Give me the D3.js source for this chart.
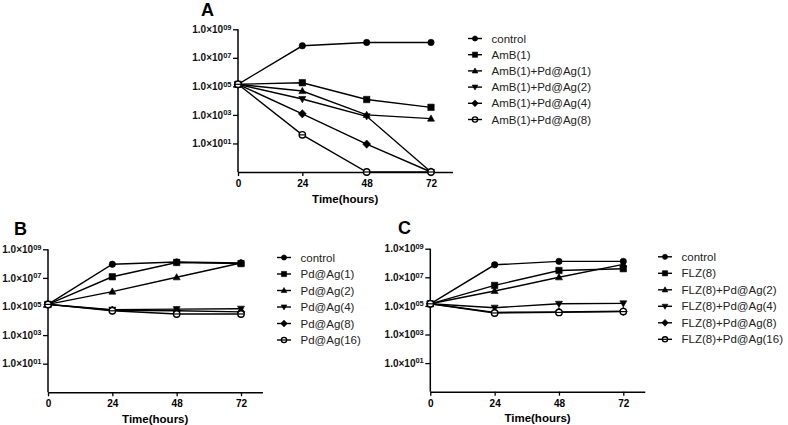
<!DOCTYPE html>
<html><head><meta charset="utf-8">
<script src="https://cdn.jsdelivr.net/npm/d3@7"></script>
<style>body{margin:0;background:#fff}svg{display:block}text{font-family:Arial,"Liberation Sans",sans-serif}</style>
</head><body>
<script>
// ---- data ----
const hours = [0, 24, 48, 72];
const yTickValues = [1e1, 1e3, 1e5, 1e7, 1e9];
const yTickExponents = ["01", "03", "05", "07", "09"];
const symbolKinds = ["circle", "square", "triangle", "triangleDown", "diamond", "openCircle"];

const labelsA = ["control", "AmB(1)", "AmB(1)+Pd@Ag(1)", "AmB(1)+Pd@Ag(2)", "AmB(1)+Pd@Ag(4)", "AmB(1)+Pd@Ag(8)"];
const valuesA = [
  [1.4e5, 7e7, 1.2e8, 1.2e8],
  [1.4e5, 1.8e5, 1.2e4, 3.4e3],
  [1.4e5, 4.7e4, 1.0e3, 5.5e2],
  [1.4e5, 1.3e4, 8e2, 0.1],
  [1.4e5, 1.2e3, 9, 0.1],
  [1.4e5, 40, 0.1, 0.1]
];
const labelsB = ["control", "Pd@Ag(1)", "Pd@Ag(2)", "Pd@Ag(4)", "Pd@Ag(8)", "Pd@Ag(16)"];
const valuesB = [
  [1.4e5, 9e7, 1.3e8, 1.1e8],
  [1.4e5, 1.2e7, 1.2e8, 1.0e8],
  [1.4e5, 1.1e6, 1.1e7, 1.1e8],
  [1.4e5, 6e4, 6.5e4, 7e4],
  [1.4e5, 5.5e4, 5e4, 4.2e4],
  [1.4e5, 5e4, 3e4, 3e4]
];
const labelsC = ["control", "FLZ(8)", "FLZ(8)+Pd@Ag(2)", "FLZ(8)+Pd@Ag(4)", "FLZ(8)+Pd@Ag(8)", "FLZ(8)+Pd@Ag(16)"];
const valuesC = [
  [1.4e5, 7.5e7, 1.3e8, 1.3e8],
  [1.4e5, 2.7e6, 3e7, 4e7],
  [1.4e5, 1.1e6, 1e7, 8e7],
  [1.4e5, 7.5e4, 1.4e5, 1.5e5],
  [1.4e5, 3.5e4, 3.8e4, 4.2e4],
  [1.4e5, 3.2e4, 3.5e4, 4e4]
];
const panelTitles = ["A", "B", "C"];
const xAxisTitle = "Time(hours)";

// ---- layout ----
const W = 788, H = 425;
const svg = d3.select("body").append("svg").attr("width", W).attr("height", H);

const panels = [
  {title: panelTitles[0], labels: labelsA, values: valuesA, axisX: 238, yTop: 29.3, yBot: 172, titleX: 201, titleY: 16, legX: 468, legY: 38.5, legStep: 16.2},
  {title: panelTitles[1], labels: labelsB, values: valuesB, axisX: 48, yTop: 249.3, yBot: 392.3, titleX: 14, titleY: 235, legX: 277, legY: 257.5, legStep: 16.5},
  {title: panelTitles[2], labels: labelsC, values: valuesC, axisX: 430.3, yTop: 248.7, yBot: 391.7, titleX: 398, titleY: 234, legX: 658, legY: 256.8, legStep: 16.5}
];

function markerPath(kind, s) {
  switch (kind) {
    case "circle": case "openCircle": return d3.symbol(d3.symbolCircle, s * s * Math.PI)();
    case "square": return `M${-s},${-s}H${s}V${s}H${-s}Z`;
    case "triangle": return `M0,${-s * 1.15}L${s * 1.1},${s * 0.8}L${-s * 1.1},${s * 0.8}Z`;
    case "triangleDown": return `M0,${s * 1.15}L${s * 1.1},${-s * 0.8}L${-s * 1.1},${-s * 0.8}Z`;
    case "diamond": return `M0,${-s * 1.3}L${s * 1.25},0L0,${s * 1.3}L${-s * 1.25},0Z`;
  }
}
function drawMarker(g, kind, x, y, s) {
  g.append("path").attr("d", markerPath(kind, s))
    .attr("transform", `translate(${x},${y})`)
    .attr("fill", kind === "openCircle" ? "#fff" : "#000")
    .attr("stroke", "#000").attr("stroke-width", kind === "openCircle" ? 1.4 : 0.6);
  if (kind === "openCircle") {
    g.append("line").attr("x1", x - s).attr("x2", x + s).attr("y1", y).attr("y2", y)
      .attr("stroke", "#000").attr("stroke-width", 1.2);
  }
}

panels.forEach(p => {
  const g = svg.append("g");
  const x = d3.scaleLinear().domain([0, 80]).range([p.axisX, p.axisX + 193 * 80 / 72]);
  const y = d3.scaleLog().domain([0.1, 1e9]).range([p.yBot, p.yTop]);

  // x axis
  const xa = g.append("g").attr("transform", `translate(0,${p.yBot})`)
    .call(d3.axisBottom(x).tickValues(hours).tickSize(4).tickSizeOuter(0).tickPadding(4));
  xa.select(".domain").attr("stroke-width", 1.5);
  xa.selectAll(".tick line").attr("stroke-width", 1.3);
  xa.selectAll(".tick text").attr("font-size", 10).attr("font-weight", "bold")
    .attr("font-family", "Arial, 'Liberation Sans', sans-serif").attr("fill", "#000");

  // y axis
  const ya = g.append("g").attr("transform", `translate(${p.axisX},0)`)
    .call(d3.axisLeft(y).tickValues(yTickValues).tickSize(5).tickSizeOuter(0).tickFormat(() => ""));
  ya.select(".domain").attr("d", `M0,${p.yTop}V${p.yBot}`).attr("stroke-width", 1.5);
  ya.selectAll(".tick line").attr("stroke-width", 1.3);
  ya.selectAll(".tick text").remove();
  yTickValues.forEach((v, i) => {
    const t = g.append("text").attr("x", p.axisX - 6.5).attr("y", y(v) + 3.6)
      .attr("text-anchor", "end").attr("font-weight", "bold").attr("fill", "#111");
    t.append("tspan").attr("font-size", 10).text("1.0×10");
    t.append("tspan").attr("font-size", 7.5).attr("dy", -3.4).text(yTickExponents[i]);
  });

  // axis title
  g.append("text").attr("x", (x(0) + x(80)) / 2).attr("y", p.yBot + 30.5)
    .attr("text-anchor", "middle").attr("font-size", 11.5).attr("font-weight", "bold").text(xAxisTitle);

  // panel title
  g.append("text").attr("x", p.titleX).attr("y", p.titleY).attr("font-size", 18)
    .attr("font-weight", "bold").text(p.title);

  // series lines
  const line = d3.line().x((d, i) => x(hours[i])).y(d => y(d));
  p.values.forEach(vals => {
    g.append("path").attr("d", line(vals)).attr("fill", "none")
      .attr("stroke", "#000").attr("stroke-width", 1.4);
  });
  // markers
  p.values.forEach((vals, si) => {
    vals.forEach((v, i) => drawMarker(g, symbolKinds[si], x(hours[i]), y(v), 3.2));
  });

  // legend
  p.labels.forEach((lab, i) => {
    const ly = p.legY + i * p.legStep;
    g.append("line").attr("x1", p.legX).attr("x2", p.legX + 14).attr("y1", ly).attr("y2", ly)
      .attr("stroke", "#000").attr("stroke-width", 1.4);
    drawMarker(g, symbolKinds[i], p.legX + 7, ly, 2.6);
    g.append("text").attr("x", p.legX + 23.5).attr("y", ly + 4).attr("font-size", 11.5)
      .attr("fill", "#222").text(lab);
  });
});
</script>
</body></html>
